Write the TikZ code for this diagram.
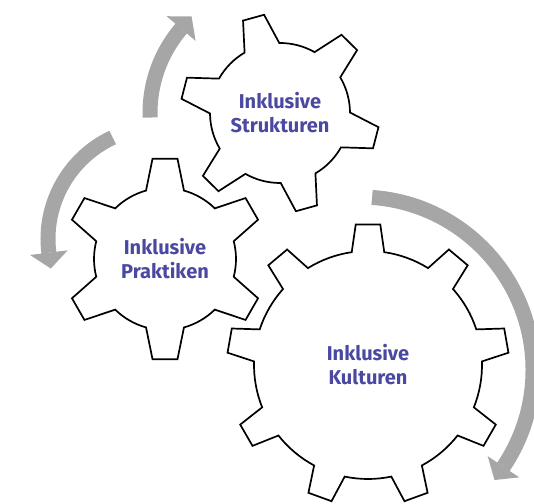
\documentclass[tikz,border=0pt]{standalone}
\usepackage{fontspec}
\setmainfont{Fira Sans}
\usepackage{tikz}
\usetikzlibrary{arrows.meta}
\usetikzlibrary{calc}

\definecolor{textblau}{RGB}{74,72,160}

% gear: centre, teeth, root radius, tip radius, half angle at tip, half angle at root, angle of first tooth
\newcommand{\zahnrad}[7]{%
    \begin{scope}[shift={(#1)}]
        \pgfmathsetmacro{\zStep}{360/#2}
        \draw[rad] (#7-#6:#3)
            \foreach \i [evaluate=\i as \zA using #7+(\i-1)*\zStep] in {1,...,#2} {
                -- (\zA-#5:#4) -- (\zA+#5:#4) -- (\zA+#6:#3)
                arc[start angle=\zA+#6, end angle=\zA+\zStep-#6, radius=#3]
            } -- cycle;
    \end{scope}}

\begin{document}
\begin{tikzpicture}[x=1pt, y=1pt,
        rad/.style={draw=black, line width=1.7pt, fill=white, line join=miter},
        pfeil/.style={draw=black!35, line width=15pt, -{Triangle[length=16pt, width=38pt, line width=0pt]}},
        titel/.style={text=textblau, font=\bfseries\fontsize{20}{24}\selectfont, align=center}]
        \useasboundingbox (0,0) rectangle (534,503);
        \clip (0,0) rectangle (534,503);

        \def\rS{130}
        \def\rL{112}
        \def\rK{173}

        \coordinate (cS) at (280,390);
        \coordinate (cP) at (165,244);
        \coordinate (cK) at (368,138);
        % the left and right arrows turn round their own centres
        \coordinate (cL) at (160,264);
        \coordinate (cR) at (360,133);

        \zahnrad{cS}{6}{70}{99.5}{6.3}{14.9}{45.5}
        \zahnrad{cP}{6}{71}{101}{7.1}{15.5}{90}
        \zahnrad{cK}{9}{114}{141}{5}{8.2}{90}

        \node[titel] (strukturen) at (cS) {Inklusive\\Strukturen};
        \node[titel] (praktiken) at (cP) {Inklusive\\Praktiken};
        \node[titel] (kulturen) at (cK) {Inklusive\\Kulturen};

        \draw[pfeil] ($(cS)+(182:\rS)$) arc[start angle=182, end angle=139.5, radius=\rS] -- ++(49.5:16);
        \draw[pfeil] ($(cL)+(115:\rL)$) arc[start angle=115, end angle=187, radius=\rL] -- ++(277:16);
        \draw[pfeil] ($(cR)+(86:\rK)$) arc[start angle=86, end angle=-34, radius=\rK] -- ++(-124:16);
\end{tikzpicture}
\end{document}
